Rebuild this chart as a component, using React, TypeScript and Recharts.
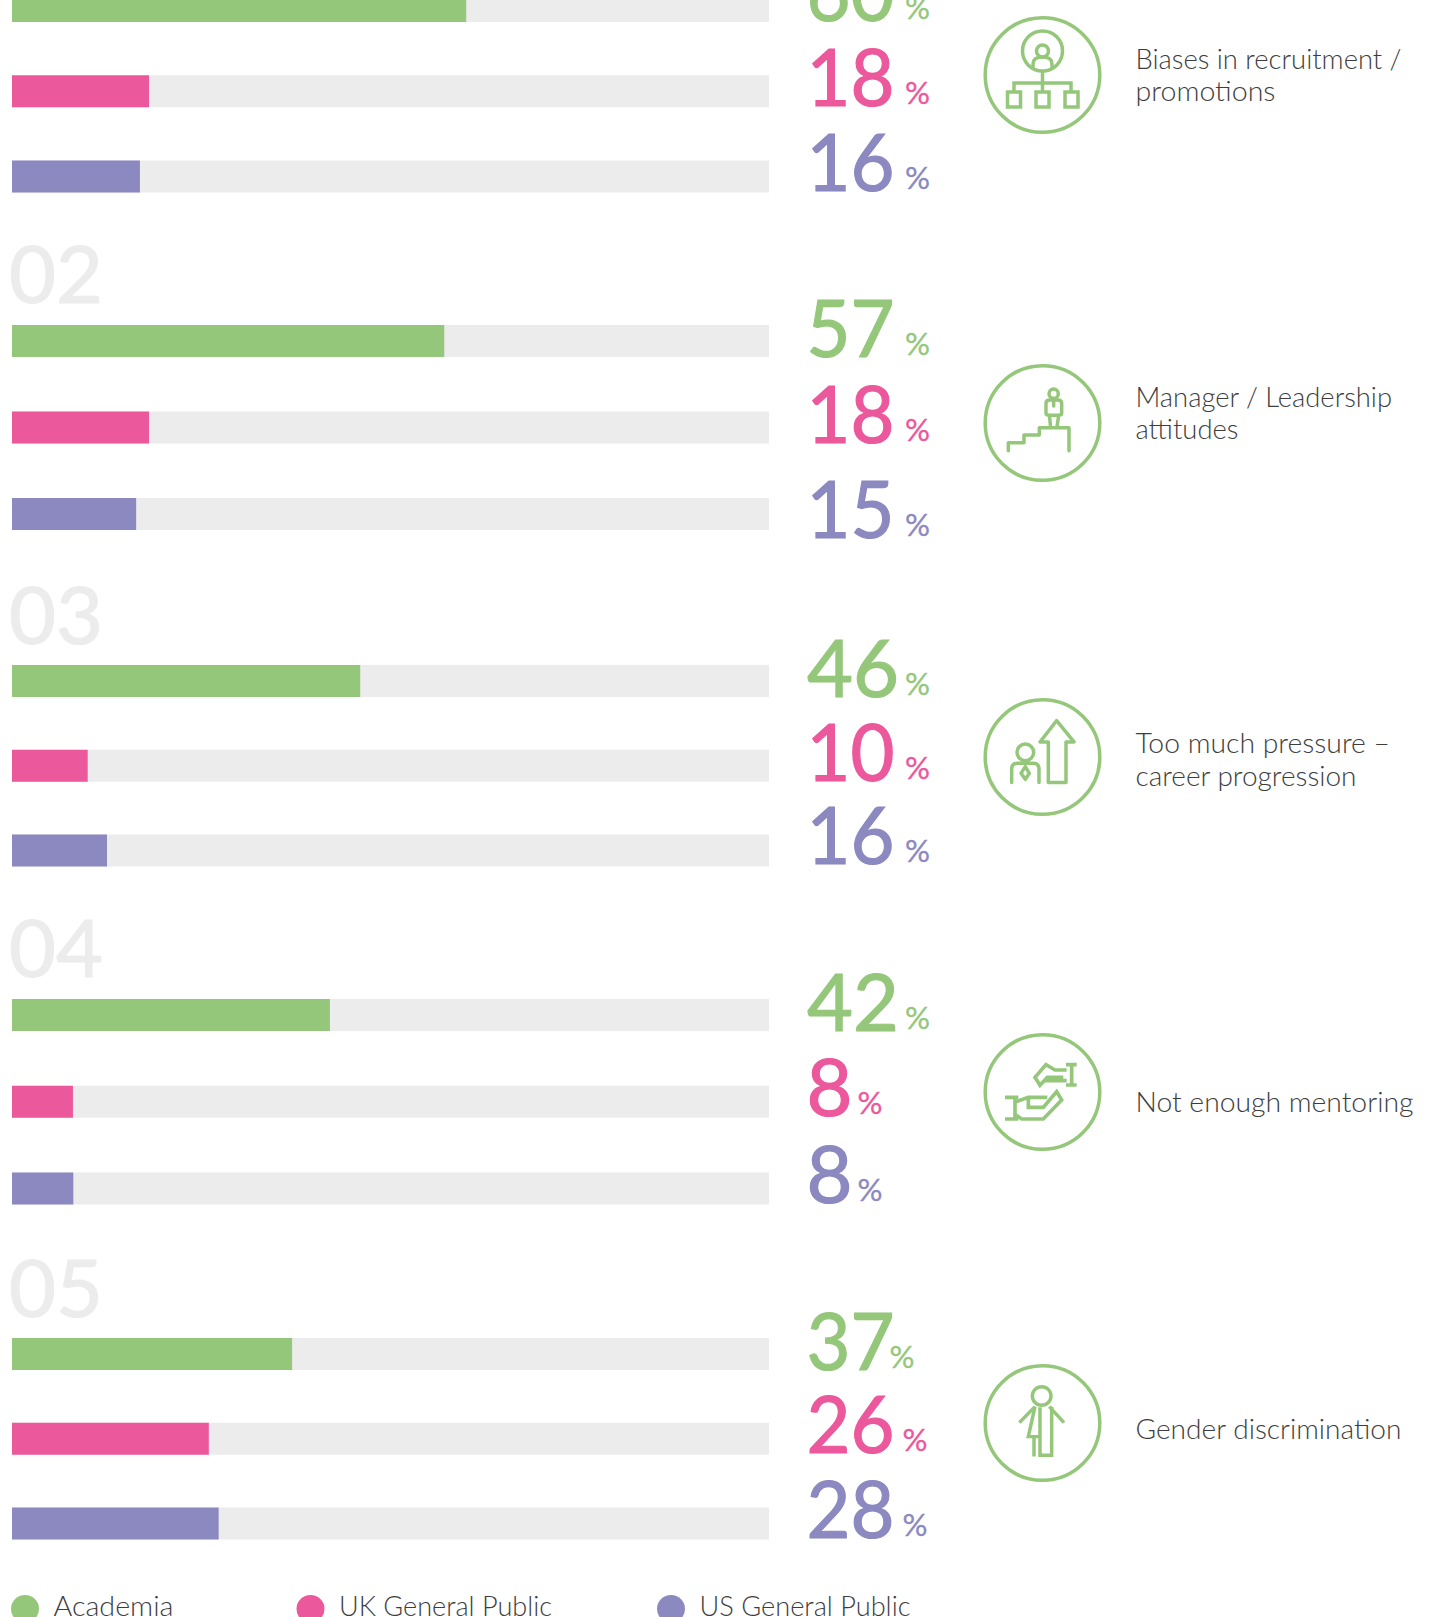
import React from "react";
import { BarChart, Bar, XAxis, YAxis, Cell, LabelList } from "recharts";

const seriesNames = ["Academia", "UK General Public", "US General Public"];
const seriesColors = ["#95c77b", "#ec589c", "#8c88c0"];
const ranks = ["01", "02", "03", "04", "05"];
const reasons = [
  ["Biases in recruitment /", "promotions"],
  ["Manager / Leadership", "attitudes"],
  ["Too much pressure –", "career progression"],
  ["Not enough mentoring"],
  ["Gender discrimination"],
];
// printed percentages
const academia = [60, 57, 46, 42, 37];
const ukPublic = [18, 18, 10, 8, 26];
const usPublic = [16, 15, 16, 8, 28];
// bar lengths as drawn (the purple bars do not follow the printed figures exactly)
const academiaBars = [60, 57.1, 46, 42, 37];
const ukPublicBars = [18.1, 18.1, 10, 8.05, 26];
const usPublicBars = [16.9, 16.4, 12.55, 8.1, 27.3];

const TRACK = "#ececec";
const BAR_H = 32;
const LEFT = 12;
const RIGHT = 769;
const W = 1443;
const H = 1617;
const FONT = "Lato, sans-serif";
const TEXT = "#3d3d3d";

const groupTops = [-10.5, 325, 665, 999.5, 1338.5];
const groupSteps = [85.25, 86.5, 84.75, 86.75, 84.75];
const rankBaselines = [0, 302.5, 643.5, 977, 1316.5];
const pctX: number[][] = [
  [905, 905, 905],
  [905, 905, 905],
  [905, 905, 905],
  [905, 857.5, 857.5],
  [889.5, 902.5, 902.5],
];
const numDy: number[][] = [
  [-1.5, -1.5, -1.5],
  [0, -1, 7.5],
  [0, -1, -3],
  [0, -1.5, -1.5],
  [0, -1.5, -1.5],
];
const reasonLines = [
  [{ y: 69, w: 266 }, { y: 101, w: 140 }],
  [{ y: 406.5, w: 256.5 }, { y: 439, w: 103 }],
  [{ y: 753, w: 254.5 }, { y: 785.5, w: 221 }],
  [{ y: 1112, w: 278 }],
  [{ y: 1438.5, w: 266 }],
];
const legendItems = [
  { cx: 25, tx: 53.5, tw: 120 },
  { cx: 310.5, tx: 339, tw: 213 },
  { cx: 671, tx: 699.5, tw: 211 },
];

const makeLabel = (g: number) => (props: any) => {
  const { x, y, height, value, index } = props;
  const color = seriesColors[index];
  const str = String(value);
  const wide = str.length === 2;
  const startsWith4 = str[0] === "4";
  const baseline = y + height + numDy[g][index];
  const nx = x + (RIGHT - LEFT) + (startsWith4 ? 38 : 37.5);
  return (
    <g>
      <text
        x={nx}
        y={baseline}
        fill={color}
        stroke={color}
        strokeWidth={1.2}
        fontFamily={FONT}
        fontSize={80}
        textLength={wide ? (startsWith4 ? 92 : 88) : 46}
        lengthAdjust="spacingAndGlyphs"
      >
        {str}
      </text>
      <text
        x={pctX[g][index]}
        y={baseline - 2}
        fill={color}
        stroke={color}
        strokeWidth={0.3}
        fontFamily={FONT}
        fontSize={31}
        textLength={25}
        lengthAdjust="spacingAndGlyphs"
      >
        %
      </text>
    </g>
  );
};

function Group({ g }: { g: number }) {
  const rows = [
    { series: seriesNames[0], bar: academiaBars[g], printed: academia[g] },
    { series: seriesNames[1], bar: ukPublicBars[g], printed: ukPublic[g] },
    { series: seriesNames[2], bar: usPublicBars[g], printed: usPublic[g] },
  ];
  const step = groupSteps[g];
  return (
    <div style={{ position: "absolute", left: 0, top: groupTops[g] - (step - BAR_H) / 2 }}>
      <BarChart
        width={W}
        height={step * 3}
        data={rows}
        layout="vertical"
        margin={{ top: 0, bottom: 0, left: LEFT, right: W - RIGHT }}
      >
        <XAxis type="number" domain={[0, 100]} hide />
        <YAxis type="category" dataKey="series" hide />
        <Bar dataKey="bar" barSize={BAR_H} background={{ fill: TRACK }} isAnimationActive={false}>
          {rows.map((r, i) => (
            <Cell key={r.series} fill={seriesColors[i]} />
          ))}
          <LabelList dataKey="printed" content={makeLabel(g)} />
        </Bar>
      </BarChart>
    </div>
  );
}

const ring = (cy: number) => <circle cx={1042.5} cy={cy} r={57.3} />;

function Icons() {
  const c = seriesColors[0];
  return (
    <g fill="none" stroke={c} strokeWidth={3.5}>
      {ring(75)}
      {ring(423)}
      {ring(757)}
      {ring(1092)}
      {ring(1423)}
      {/* org chart */}
      <circle cx={1042.5} cy={51} r={20} />
      <circle cx={1042.5} cy={51} r={6} />
      <path d="M1033 70 V64 Q1033 57 1042.5 57 Q1052 57 1052 64 V69" />
      <path d="M1042.5 71 V92 M1014 92 V83 H1071 V92" />
      <rect x={1007.5} y={92} width={13} height={15} />
      <rect x={1036} y={92} width={13} height={15} />
      <rect x={1065} y={92} width={13} height={15} />
      {/* stairs */}
      <g transform="translate(960,350) scale(0.3333)" strokeWidth={10.5} strokeLinecap="round" strokeLinejoin="round">
        <path d="M145 302 V278 H192 V255 H238 V233 H327 V302" />
        <circle cx={281} cy={131} r={14} />
        <path d="M268 195 L272 232 M296 195 L291 232 M258 190 V160 Q258 150 270 150 H293 Q305 150 305 160 V190 Q305 196 296 196 H268 Q258 196 258 190 Z M281 150 V168" />
        {/* arrow and person */}
        <path d="M290 1112 L342 1176 H318 V1298 H265 V1176 H240 Z" />
        <circle cx={196} cy={1207} r={25} />
        <path d="M155 1298 V1258 Q155 1240 172 1240 H220 Q237 1240 237 1258 V1298" />
        <path d="M196 1250 L208 1270 L196 1288 L183 1270 Z" />
      </g>
      {/* hands */}
      <g transform="translate(960,1020) scale(0.3333)" strokeWidth={11} strokeLinejoin="miter">
        <path d="M350 134 H318 M350 195 H318 M335 134 V195" />
        <path d="M320 150 H285 L258 134 L225 172 L240 196 L262 172 H310 M320 182 H252" />
        <path d="M135 232 H175 M135 297 H175 M165 232 V297" />
        <path d="M168 245 L205 232 H262 M205 232 V262 H250 L290 215 L305 240 L250 297 H185 L168 285" />
      </g>
      {/* gender */}
      <g transform="translate(960,1020) scale(0.3333)" strokeWidth={10.5} strokeLinejoin="miter">
        <circle cx={245} cy={1128} r={28} />
        <path d="M178 1208 L225 1160 M312 1208 L268 1160" />
        <path d="M225 1160 L205 1250 H240 V1162 M240 1250 V1306 H275 V1160 M222 1250 V1310" />
      </g>
    </g>
  );
}

function Overlay() {
  return (
    <svg width={W} height={H} style={{ position: "absolute", left: 0, top: 0, pointerEvents: "none" }}>
      {ranks.map((r, i) =>
        i === 0 ? null : (
          <text
            key={r}
            x={9}
            y={rankBaselines[i]}
            fill={TRACK}
            stroke={TRACK}
            strokeWidth={1.2}
            fontFamily={FONT}
            fontSize={80}
            textLength={94}
            lengthAdjust="spacingAndGlyphs"
          >
            {r}
          </text>
        )
      )}
      <Icons />
      {reasons.map((lines, i) =>
        lines.map((t, j) => (
          <text
            key={t}
            x={1135.5}
            y={reasonLines[i][j].y}
            fill={TEXT}
            fontFamily={FONT}
            fontWeight={300}
            fontSize={27}
            textLength={reasonLines[i][j].w}
            lengthAdjust="spacingAndGlyphs"
          >
            {t}
          </text>
        ))
      )}
      {seriesNames.map((n, i) => (
        <g key={n}>
          <circle cx={legendItems[i].cx} cy={1609} r={14} fill={seriesColors[i]} />
          <text
            x={legendItems[i].tx}
            y={1616}
            fill={TEXT}
            fontFamily={FONT}
            fontWeight={300}
            fontSize={27}
            textLength={legendItems[i].tw}
            lengthAdjust="spacingAndGlyphs"
          >
            {n}
          </text>
        </g>
      ))}
    </svg>
  );
}

export default function App() {
  return (
    <div style={{ position: "absolute", left: 0, top: 0, width: W, height: H, overflow: "hidden", background: "#fff" }}>
      {ranks.map((_, g) => (
        <Group key={g} g={g} />
      ))}
      <Overlay />
    </div>
  );
}
